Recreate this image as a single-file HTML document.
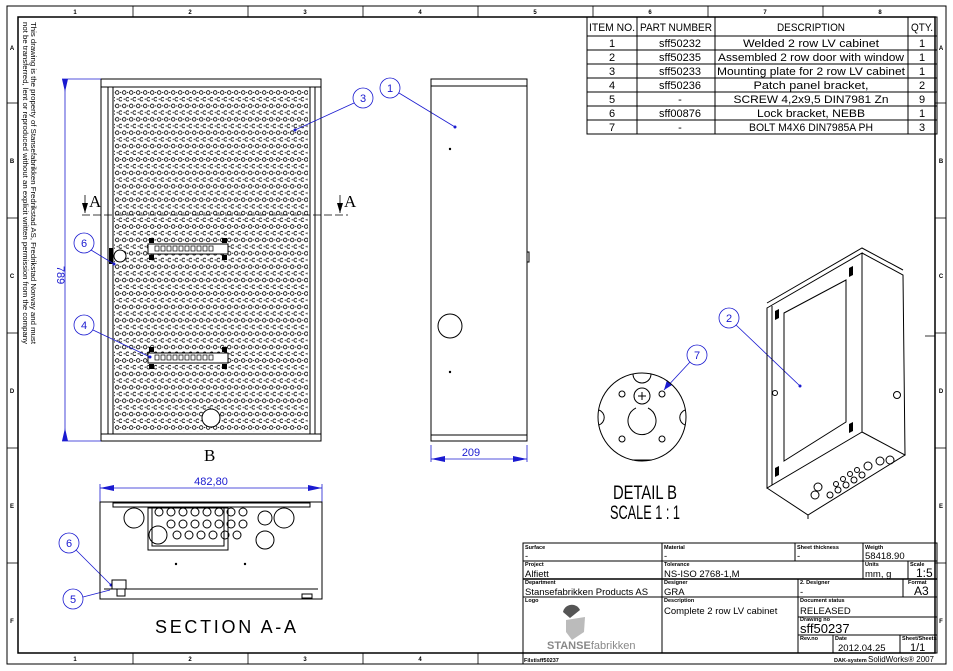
<!DOCTYPE html>
<html><head><meta charset="utf-8"><style>
html,body{margin:0;padding:0;background:#fff;width:953px;height:671px;overflow:hidden}
svg{display:block}
text{font-family:"Liberation Sans",sans-serif;fill:#000}
</style></head><body>
<svg width="953" height="671" viewBox="0 0 953 671" xmlns="http://www.w3.org/2000/svg">
<defs>
<pattern id="perf" x="115" y="90" width="7" height="13.4" patternUnits="userSpaceOnUse">
<circle cx="2.2" cy="2.5" r="1.8" fill="none" stroke="#000" stroke-width="0.8"/>
<circle cx="5.7" cy="9.2" r="1.8" fill="none" stroke="#000" stroke-width="0.8"/>
<circle cx="5.7" cy="2.5" r="0.6" fill="#000"/>
<circle cx="2.2" cy="9.2" r="0.6" fill="#000"/>
</pattern>
</defs>
<rect x="7" y="6" width="939" height="658" fill="none" stroke="#000" stroke-width="1"/>
<rect x="18" y="17" width="917" height="636" fill="none" stroke="#000" stroke-width="1.5"/>
<g stroke="#000" stroke-width="0.8">
<line x1="133" y1="6" x2="133" y2="17"/><line x1="248" y1="6" x2="248" y2="17"/><line x1="363" y1="6" x2="363" y2="17"/><line x1="478" y1="6" x2="478" y2="17"/><line x1="593" y1="6" x2="593" y2="17"/><line x1="708" y1="6" x2="708" y2="17"/><line x1="823" y1="6" x2="823" y2="17"/>
<line x1="133" y1="653" x2="133" y2="664"/><line x1="248" y1="653" x2="248" y2="664"/><line x1="363" y1="653" x2="363" y2="664"/><line x1="478" y1="653" x2="478" y2="664"/>
<line x1="7" y1="103" x2="18" y2="103"/><line x1="7" y1="218" x2="18" y2="218"/><line x1="7" y1="333" x2="18" y2="333"/><line x1="7" y1="448" x2="18" y2="448"/><line x1="7" y1="563" x2="18" y2="563"/>
<line x1="935" y1="103" x2="946" y2="103"/><line x1="935" y1="218" x2="946" y2="218"/><line x1="935" y1="333" x2="946" y2="333"/><line x1="935" y1="448" x2="946" y2="448"/><line x1="935" y1="563" x2="946" y2="563"/>
</g>
<g font-size="6" font-weight="bold" text-anchor="middle">
<text x="75" y="14">1</text><text x="190" y="14">2</text><text x="305" y="14">3</text><text x="420" y="14">4</text><text x="535" y="14">5</text><text x="650" y="14">6</text><text x="765" y="14">7</text><text x="880" y="14">8</text>
<text x="75" y="661">1</text><text x="190" y="661">2</text><text x="305" y="661">3</text><text x="420" y="661">4</text>
<text x="12" y="50">A</text><text x="12" y="163">B</text><text x="12" y="278">C</text><text x="12" y="393">D</text><text x="12" y="508">E</text><text x="12" y="623">F</text>
<text x="941" y="50">A</text><text x="941" y="163">B</text><text x="941" y="278">C</text><text x="941" y="393">D</text><text x="941" y="508">E</text><text x="941" y="623">F</text>
</g>
<g font-size="7.5" transform="translate(21,22) rotate(90)">
<text x="0" y="-10" textLength="322" lengthAdjust="spacingAndGlyphs">This drawing is the property of Stansefabrikken Fredrikstad AS, Fredrikstad Norway and must</text>
<text x="0" y="-2" textLength="322" lengthAdjust="spacingAndGlyphs">not be transferred, lent or reproduced without an explicit written permission from the company</text>
</g>

<g stroke="#000" stroke-width="1" fill="none">
<rect x="587" y="17" width="350" height="117"/>
<line x1="587" y1="36" x2="937" y2="36"/>
<line x1="587" y1="50" x2="937" y2="50"/><line x1="587" y1="64" x2="937" y2="64"/><line x1="587" y1="78" x2="937" y2="78"/><line x1="587" y1="92" x2="937" y2="92"/><line x1="587" y1="106" x2="937" y2="106"/><line x1="587" y1="120" x2="937" y2="120"/>
<line x1="637" y1="17" x2="637" y2="134"/><line x1="715" y1="17" x2="715" y2="134"/><line x1="908" y1="17" x2="908" y2="134"/>
</g>
<g font-size="11" text-anchor="middle">
<text x="612" y="31" textLength="46" lengthAdjust="spacingAndGlyphs">ITEM NO.</text><text x="676" y="31" textLength="72" lengthAdjust="spacingAndGlyphs">PART NUMBER</text><text x="811" y="31" textLength="68" lengthAdjust="spacingAndGlyphs">DESCRIPTION</text><text x="922" y="31" textLength="22" lengthAdjust="spacingAndGlyphs">QTY.</text>
<text x="612" y="47">1</text><text x="680" y="47">sff50232</text><text x="811" y="47" textLength="136" lengthAdjust="spacingAndGlyphs">Welded 2 row LV cabinet</text><text x="922" y="47">1</text>
<text x="612" y="61">2</text><text x="680" y="61">sff50235</text><text x="811" y="61" textLength="186" lengthAdjust="spacingAndGlyphs">Assembled 2 row door with window</text><text x="922" y="61">1</text>
<text x="612" y="75">3</text><text x="680" y="75">sff50233</text><text x="811" y="75" textLength="188" lengthAdjust="spacingAndGlyphs">Mounting plate for 2 row LV cabinet</text><text x="922" y="75">1</text>
<text x="612" y="89">4</text><text x="680" y="89">sff50236</text><text x="811" y="89" textLength="115" lengthAdjust="spacingAndGlyphs">Patch panel bracket,</text><text x="922" y="89">2</text>
<text x="612" y="103">5</text><text x="680" y="103">-</text><text x="811" y="103" textLength="155" lengthAdjust="spacingAndGlyphs">SCREW 4,2x9,5 DIN7981 Zn</text><text x="922" y="103">9</text>
<text x="612" y="117">6</text><text x="680" y="117">sff00876</text><text x="811" y="117" textLength="108" lengthAdjust="spacingAndGlyphs">Lock bracket, NEBB</text><text x="922" y="117">1</text>
<text x="612" y="131">7</text><text x="680" y="131">-</text><text x="811" y="131" textLength="124" lengthAdjust="spacingAndGlyphs">BOLT M4X6 DIN7985A PH</text><text x="922" y="131">3</text>
</g>

<g stroke="#000" fill="none" stroke-width="1">
<rect x="101" y="79" width="220" height="362"/>
<rect x="101" y="79" width="220" height="8"/>
<rect x="101" y="434" width="220" height="7"/>
<line x1="108" y1="87" x2="108" y2="434"/><line x1="113" y1="87" x2="113" y2="434"/>
<line x1="310" y1="87" x2="310" y2="434"/><line x1="315" y1="87" x2="315" y2="434"/>
</g>
<rect x="114" y="89" width="194" height="343" fill="url(#perf)"/>
<g stroke="#000" fill="#fff" stroke-width="1">
<rect x="148" y="244" width="80" height="10"/>
<rect x="148" y="353" width="80" height="10"/>
<circle cx="120" cy="256" r="6"/>
<circle cx="211" cy="418" r="9"/>
</g>
<g fill="#000">
<rect x="149" y="238" width="5" height="5"/><rect x="222" y="238" width="5" height="5"/><rect x="149" y="255" width="5" height="5"/><rect x="222" y="255" width="5" height="5"/>
<rect x="149" y="347" width="5" height="5"/><rect x="222" y="347" width="5" height="5"/><rect x="149" y="364" width="5" height="5"/><rect x="222" y="364" width="5" height="5"/>
<rect x="109" y="248" width="4" height="16"/>
</g>
<g stroke="#000" fill="#fff" stroke-width="0.7">
<rect x="155" y="246" width="4" height="5"/><rect x="161" y="246" width="4" height="5"/><rect x="167" y="246" width="4" height="5"/><rect x="173" y="246" width="4" height="5"/><rect x="179" y="246" width="4" height="5"/><rect x="185" y="246" width="4" height="5"/><rect x="191" y="246" width="4" height="5"/><rect x="197" y="246" width="4" height="5"/><rect x="203" y="246" width="4" height="5"/><rect x="209" y="246" width="4" height="5"/>
<rect x="155" y="355" width="4" height="5"/><rect x="161" y="355" width="4" height="5"/><rect x="167" y="355" width="4" height="5"/><rect x="173" y="355" width="4" height="5"/><rect x="179" y="355" width="4" height="5"/><rect x="185" y="355" width="4" height="5"/><rect x="191" y="355" width="4" height="5"/><rect x="197" y="355" width="4" height="5"/><rect x="203" y="355" width="4" height="5"/><rect x="209" y="355" width="4" height="5"/>
</g>
<line x1="82" y1="215" x2="348" y2="215" stroke="#000" stroke-width="0.8" stroke-dasharray="8,3"/>
<g stroke="#000" stroke-width="0.8"><line x1="85" y1="195" x2="85" y2="213"/><line x1="340" y1="195" x2="340" y2="213"/></g>
<path d="M82,203 L85,213 L88,203 Z M337,203 L340,213 L343,203 Z" fill="#000"/>
<g font-size="17"><text x="89" y="207" style="font-family:'Liberation Serif',serif">A</text><text x="344" y="207" style="font-family:'Liberation Serif',serif">A</text>
<text x="204" y="461" style="font-family:'Liberation Serif',serif">B</text></g>

<g stroke="#1a1ad0" fill="none" stroke-width="0.8">
<line x1="65" y1="79" x2="65" y2="441"/><line x1="62" y1="79" x2="101" y2="79"/><line x1="62" y1="441" x2="101" y2="441"/>
<circle cx="84" cy="243" r="10" fill="#fff"/><line x1="91" y1="250" x2="114" y2="264"/>
<circle cx="84" cy="325" r="10" fill="#fff"/><line x1="93" y1="330" x2="150" y2="357"/>
<circle cx="363" cy="98" r="10" fill="#fff"/><line x1="354" y1="103" x2="295" y2="130"/>
<circle cx="390" cy="88" r="10" fill="#fff"/><line x1="399" y1="93" x2="455" y2="127"/>
<line x1="431" y1="445" x2="431" y2="462"/><line x1="527" y1="445" x2="527" y2="462"/><line x1="431" y1="459" x2="527" y2="459"/>
<line x1="100" y1="484" x2="100" y2="502"/><line x1="322" y1="484" x2="322" y2="502"/><line x1="100" y1="488" x2="322" y2="488"/>
<circle cx="69" cy="543" r="10" fill="#fff"/><line x1="76" y1="550" x2="111" y2="585"/>
<circle cx="73" cy="599" r="10" fill="#fff"/><line x1="83" y1="597" x2="110" y2="590"/>
<circle cx="697" cy="355" r="10" fill="#fff"/><line x1="690" y1="362" x2="664" y2="390"/>
<circle cx="729" cy="318" r="10" fill="#fff"/><line x1="736" y1="325" x2="800" y2="386"/>
</g>
<g fill="#1a1ad0">
<path d="M62,79 L65,92 L68,79Z M62,441 L65,428 L68,441Z M431,459 L445,456 L445,462Z M527,459 L513,456 L513,462Z M100,488 L114,485 L114,491Z M322,488 L308,485 L308,491Z M664,390 L667,380 L672,385Z"/>
<circle cx="295" cy="130" r="1.5"/><circle cx="455" cy="127" r="1.5"/><circle cx="150" cy="357" r="1.5"/><circle cx="114" cy="264" r="1.5"/><circle cx="800" cy="386" r="1.5"/><circle cx="111" cy="585" r="1.5"/>
</g>
<g font-size="11" text-anchor="middle">
<text x="84" y="247" style="fill:#1a1ad0">6</text><text x="84" y="329" style="fill:#1a1ad0">4</text><text x="363" y="102" style="fill:#1a1ad0">3</text><text x="390" y="92" style="fill:#1a1ad0">1</text>
<text x="69" y="547" style="fill:#1a1ad0">6</text><text x="73" y="603" style="fill:#1a1ad0">5</text><text x="697" y="359" style="fill:#1a1ad0">7</text><text x="729" y="322" style="fill:#1a1ad0">2</text>
<text x="471" y="456" style="fill:#1a1ad0">209</text><text x="211" y="485" style="fill:#1a1ad0">482,80</text>
<text transform="translate(57,275) rotate(90)" style="fill:#1a1ad0">789</text>
</g>

<g stroke="#000" fill="none" stroke-width="1">
<rect x="431" y="79" width="96" height="362"/>
<rect x="431" y="79" width="96" height="7"/><rect x="431" y="435" width="96" height="6"/>
<circle cx="450" cy="326" r="12"/>
<rect x="527" y="252" width="2" height="10"/>
</g>
<circle cx="450" cy="149" r="1.2"/><circle cx="450" cy="372" r="1.2"/>

<g stroke="#000" fill="none" stroke-width="1">
<rect x="100" y="502" width="222" height="97"/>
<rect x="113" y="503" width="197" height="4"/>
<rect x="148" y="508" width="80" height="42"/>
<rect x="152" y="508" width="72" height="38"/>
<line x1="104" y1="589" x2="318" y2="589"/>
<circle cx="134" cy="518" r="10"/><circle cx="284" cy="518" r="10"/><circle cx="265" cy="518" r="7"/><circle cx="265" cy="540" r="9"/><circle cx="158" cy="535" r="9"/>
<circle cx="159" cy="512" r="4"/><circle cx="171" cy="512" r="4"/><circle cx="183" cy="512" r="4"/><circle cx="195" cy="512" r="4"/><circle cx="207" cy="512" r="4"/><circle cx="219" cy="512" r="4"/><circle cx="231" cy="512" r="4"/><circle cx="243" cy="512" r="4"/>
<circle cx="171" cy="524" r="4"/><circle cx="183" cy="524" r="4"/><circle cx="195" cy="524" r="4"/><circle cx="207" cy="524" r="4"/><circle cx="219" cy="524" r="4"/><circle cx="231" cy="524" r="4"/><circle cx="243" cy="524" r="4"/>
<circle cx="177" cy="535" r="4"/><circle cx="189" cy="535" r="4"/><circle cx="201" cy="535" r="4"/><circle cx="213" cy="535" r="4"/><circle cx="225" cy="535" r="4"/><circle cx="237" cy="535" r="4"/>
<rect x="112" y="580" width="14" height="9"/><rect x="117" y="589" width="8" height="7"/><rect x="302" y="594" width="10" height="4"/>
</g>
<circle cx="176" cy="564" r="1.2"/><circle cx="245" cy="564" r="1.2"/>
<text x="155" y="633" font-size="18" textLength="141" lengthAdjust="spacing">SECTION A-A</text>

<g stroke="#000" fill="none" stroke-width="1">
<circle cx="642" cy="417" r="44"/>
<circle cx="642" cy="396" r="8"/>
<path d="M636,408 A14,14 0 1 0 648,408"/>
<circle cx="622" cy="394" r="3"/><circle cx="662" cy="394" r="3"/><circle cx="622" cy="439" r="3"/><circle cx="662" cy="439" r="3"/>
<path d="M633,374 A9,9 0 0 0 651,374"/><path d="M599,410 A8,8 0 0 1 599,425"/><path d="M685,410 A8,8 0 0 0 685,425"/><path d="M632,460 L652,460"/>
<path d="M638,396 L646,396 M642,392 L642,400"/>
</g>
<text x="613" y="499" font-size="19" textLength="64" lengthAdjust="spacingAndGlyphs">DETAIL B</text>
<text x="610" y="519" font-size="19" textLength="70" lengthAdjust="spacingAndGlyphs">SCALE 1 : 1</text>

<g stroke="#000" fill="none" stroke-width="1">
<path d="M767,308 L862,253 L862,432 L767,488 Z"/>
<path d="M767,488 L808,515 L905,455 L862,432"/>
<path d="M862,253 L903,275 L905,455"/>
<path d="M767,303 L862,248 L903,270"/>
<path d="M772,306 L772,485"/>
<path d="M784,313 L846,280 L846,422 L784,461 Z"/>
<line x1="808" y1="515" x2="808" y2="519"/>
<circle cx="775" cy="393" r="2.5"/><circle cx="897" cy="395" r="3.5"/>
<circle cx="815" cy="495" r="4"/><circle cx="880" cy="461" r="4"/><circle cx="890" cy="460" r="4"/><circle cx="818" cy="487" r="4"/><circle cx="868" cy="466" r="4"/>
<circle cx="830" cy="495" r="3"/><circle cx="838" cy="490" r="3"/><circle cx="846" cy="485" r="3"/><circle cx="854" cy="480" r="3"/><circle cx="862" cy="475" r="3"/><circle cx="836" cy="484" r="2.5"/><circle cx="843" cy="479" r="2.5"/><circle cx="850" cy="474" r="2.5"/><circle cx="857" cy="470" r="2.5"/>
</g>
<g fill="#000">
<path d="M775,311 L779,309 L779,318 L775,320Z M849,268 L853,266 L853,275 L849,277Z M849,424 L853,422 L853,431 L849,433Z M775,468 L779,466 L779,475 L775,477Z"/>
</g>
<line x1="925" y1="336" x2="935" y2="336" stroke="#000" stroke-width="0.8"/>

<g stroke="#000" fill="none" stroke-width="1">
<rect x="523" y="543" width="414" height="110"/>
<line x1="523" y1="561" x2="937" y2="561"/><line x1="523" y1="579" x2="937" y2="579" stroke-width="1.5"/><line x1="523" y1="597" x2="937" y2="597"/>
<line x1="662" y1="543" x2="662" y2="653"/>
<line x1="795" y1="543" x2="795" y2="561"/><line x1="863" y1="543" x2="863" y2="579"/><line x1="908" y1="561" x2="908" y2="579"/>
<line x1="798" y1="579" x2="798" y2="653"/><line x1="903" y1="579" x2="903" y2="597"/>
<line x1="798" y1="617" x2="937" y2="617"/><line x1="798" y1="635" x2="937" y2="635"/>
<line x1="833" y1="635" x2="833" y2="653"/><line x1="900" y1="635" x2="900" y2="653"/>
<line x1="523" y1="653" x2="523" y2="664"/>
</g>
<g font-size="5.5" font-weight="bold">
<text x="525" y="549">Surface</text><text x="664" y="549">Material</text><text x="797" y="549">Sheet thickness</text><text x="865" y="549">Weigth</text>
<text x="525" y="566">Project</text><text x="664" y="566">Tolerance</text><text x="865" y="566">Units</text><text x="910" y="566">Scale</text>
<text x="525" y="584">Department</text><text x="664" y="584">Designer</text><text x="800" y="584">2. Designer</text><text x="908" y="584">Format</text>
<text x="525" y="602">Logo</text><text x="664" y="602">Description</text><text x="800" y="602">Document status</text><text x="800" y="621">Drawing no</text>
<text x="800" y="640">Rev.no</text><text x="835" y="640">Date</text><text x="902" y="640">Sheet/Sheets</text>
<text x="524" y="662">Filstisff50237</text><text x="834" y="662">DAK-system</text>
</g>
<g font-size="9.5">
<text x="525" y="559">-</text><text x="664" y="559">-</text><text x="797" y="559">-</text><text x="865" y="559">58418.90</text>
<text x="525" y="577">Alfiett</text><text x="664" y="577">NS-ISO 2768-1,M</text><text x="865" y="577">mm, g</text><text x="916" y="577" font-size="12">1:5</text>
<text x="525" y="595">Stansefabrikken Products AS</text><text x="664" y="595">GRA</text><text x="800" y="595">-</text><text x="914" y="595" font-size="12">A3</text>
<text x="664" y="614">Complete 2 row LV cabinet</text><text x="800" y="614">RELEASED</text>
<text x="800" y="633" font-size="13">sff50237</text>
<text x="838" y="651">2012.04.25</text><text x="910" y="651" font-size="11">1/1</text>
<text x="868" y="662" font-size="8" textLength="66" lengthAdjust="spacingAndGlyphs">SolidWorks® 2007</text>
</g>
<path d="M563,612 A9,9 0 0 1 580,610 L570,618 Z" fill="#555"/>
<path d="M566,620 L585,617 L584,632 L572,640 L566,632 Z" fill="#bbb"/>
<text x="547" y="649" font-size="11" font-weight="bold" style="fill:#888">STANSE<tspan font-weight="normal">fabrikken</tspan></text>
</svg>
</body></html>
